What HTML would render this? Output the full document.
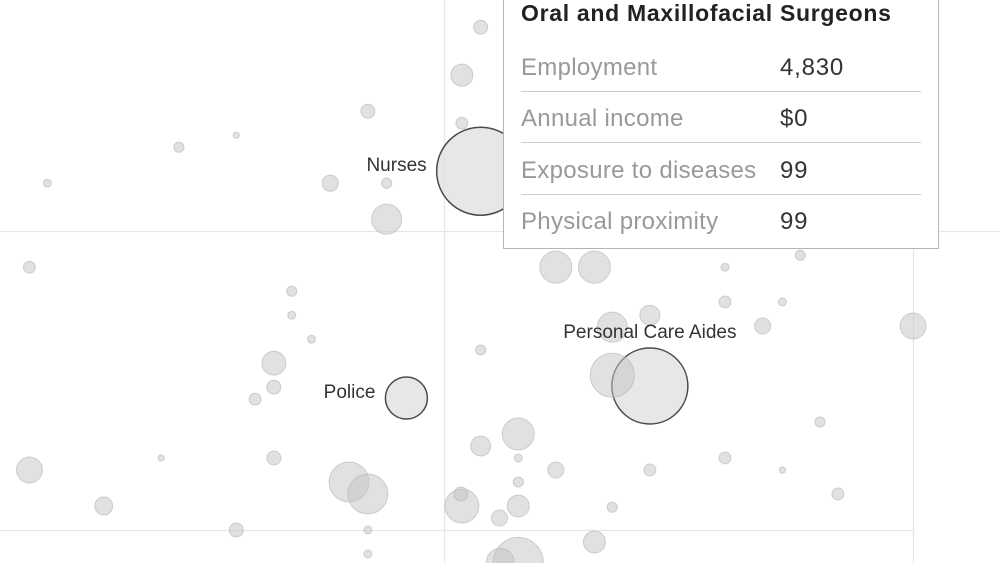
<!DOCTYPE html>
<html><head><meta charset="utf-8">
<style>
html,body{margin:0;padding:0;background:#fff;width:1000px;height:563px;overflow:hidden;font-family:"Liberation Sans",Arial,sans-serif;}
#chart{position:absolute;left:0;top:0;}
#tip{position:absolute;left:503px;top:-10px;width:436px;height:259px;background:#fff;border:1px solid #b5b5b5;box-sizing:border-box;}
#tip .title{position:absolute;left:17px;top:9px;font-weight:bold;font-size:23px;letter-spacing:0.7px;color:#222;}
#tip .row{position:absolute;left:17px;width:400px;height:51px;border-bottom:1px solid #ccc;font-size:24px;letter-spacing:0.3px;}
#tip .lab{position:absolute;left:0;top:14px;color:#999;}
#tip .val{position:absolute;left:259px;top:14px;color:#333;letter-spacing:0.8px;}
</style></head><body>
<svg id="chart" width="1000" height="563" viewBox="0 0 1000 563">
<g id="grid"></g><g id="dots"></g><g id="labels"></g>
</svg>
<div id="tip">
<div class="title">Oral and Maxillofacial Surgeons</div>
<div class="row" style="top:49px"><span class="lab">Employment</span><span class="val">4,830</span></div>
<div class="row" style="top:100px"><span class="lab">Annual income</span><span class="val">$0</span></div>
<div class="row" style="top:152px"><span class="lab">Exposure to diseases</span><span class="val">99</span></div>
<div class="row" style="top:203px;border-bottom:none"><span class="lab">Physical proximity</span><span class="val">99</span></div>
</div>
<script>
const proximity=[53.9,51.9,41.9,27.9,21.8,7.8,37.9,43.9,43.9,51.9,53.9,5.9,33.8,33.8,35.9,31.9,31.9,29.9,46.0,19.9,5.9,31.9,39.9,41.9,13.8,27.9,41.9,41.9,53.9,53.9,61.9,66,79.9,87.9,79.9,86,67.9,71.9,83.9,99.9,71.9,67.9,57.9,90,61.9,71.9,79.9,86,91.9,67.9,51.9,51.8,55.9,57.9,57.9,57.9,66,57.9,56];
const exposure=[91.9,87.9,84.9,82.9,81.9,78.9,78.9,78.9,75.9,83.9,79.9,71.9,69.9,67.9,65.9,63.9,61.9,60.9,61.0,56,55,56,54,53,52,50,50,48,65,57,71.9,71.9,71.9,72.9,69,69,66.9,67.9,67,67,62,62.9,58,59,55,55,56,55,53,51.9,52,53,51,52,54,56,49,47.3,47.3];
const employment=[25,62,25,5,13,8,33,13,115,18,988,18,13,8,8,73,25,18,225,5,86,25,204,204,41,25,8,8,13,51,131,131,8,13,18,8,115,51,33,86,737,247,131,13,33,18,18,5,18,13,147,25,33,62,13,8,62,319,100];
const labels=["","","","","","","","","","","Nurses","","","","","","","","Police","","","","","","","","","","","","","","","","","","","","","","Personal Care Aides"];
const xScale=v=>444+(v-50)*9.4;
const yScale=v=>530-(v-50)*12;
const rScale=v=>Math.sqrt(v)*1.4;
const NS="http://www.w3.org/2000/svg";
const grid=document.getElementById('grid');
[[0,231.5,1000,231.5],[0,530.5,913,530.5],[444.5,0,444.5,563],[913.5,0,913.5,563]].forEach((g,i)=>{
 const l=document.createElementNS(NS,'line');
 l.setAttribute('x1',g[0]);l.setAttribute('y1',g[1]);l.setAttribute('x2',g[2]);l.setAttribute('y2',g[3]);
 l.setAttribute('stroke','#e6e6e6');l.setAttribute('stroke-width','1.2');
 
 
 grid.appendChild(l);
});
const dots=document.getElementById('dots'),lab=document.getElementById('labels');
proximity.forEach((p,i)=>{
 const c=document.createElementNS(NS,'circle');
 const cx=xScale(p),cy=yScale(exposure[i]),r=rScale(employment[i]);
 c.setAttribute('cx',cx);c.setAttribute('cy',cy);c.setAttribute('r',r);
 const hl=labels[i]&&labels[i].length>0;
 if(hl){c.setAttribute('fill','rgba(225,225,225,0.8)');c.setAttribute('stroke','#4a4a4a');c.setAttribute('stroke-width','1.5');}
 else{c.setAttribute('fill','rgba(195,195,195,0.5)');c.setAttribute('stroke','rgba(180,180,180,0.6)');c.setAttribute('stroke-width','1');}
 
 
 dots.appendChild(c);
 if(hl){
  const t=document.createElementNS(NS,'text');
  t.textContent=labels[i];
  t.setAttribute('font-size','19');t.setAttribute('fill','#333');
  t.setAttribute('font-family','Liberation Sans, Arial, sans-serif');
  if(labels[i]==="Personal Care Aides"){t.setAttribute('x',cx);t.setAttribute('y',cy-48);t.setAttribute('text-anchor','middle');}
  else{t.setAttribute('x',cx-r-10);t.setAttribute('y',cy);t.setAttribute('text-anchor','end');}
  
  
  lab.appendChild(t);
 }
});
</script>
</body></html>
